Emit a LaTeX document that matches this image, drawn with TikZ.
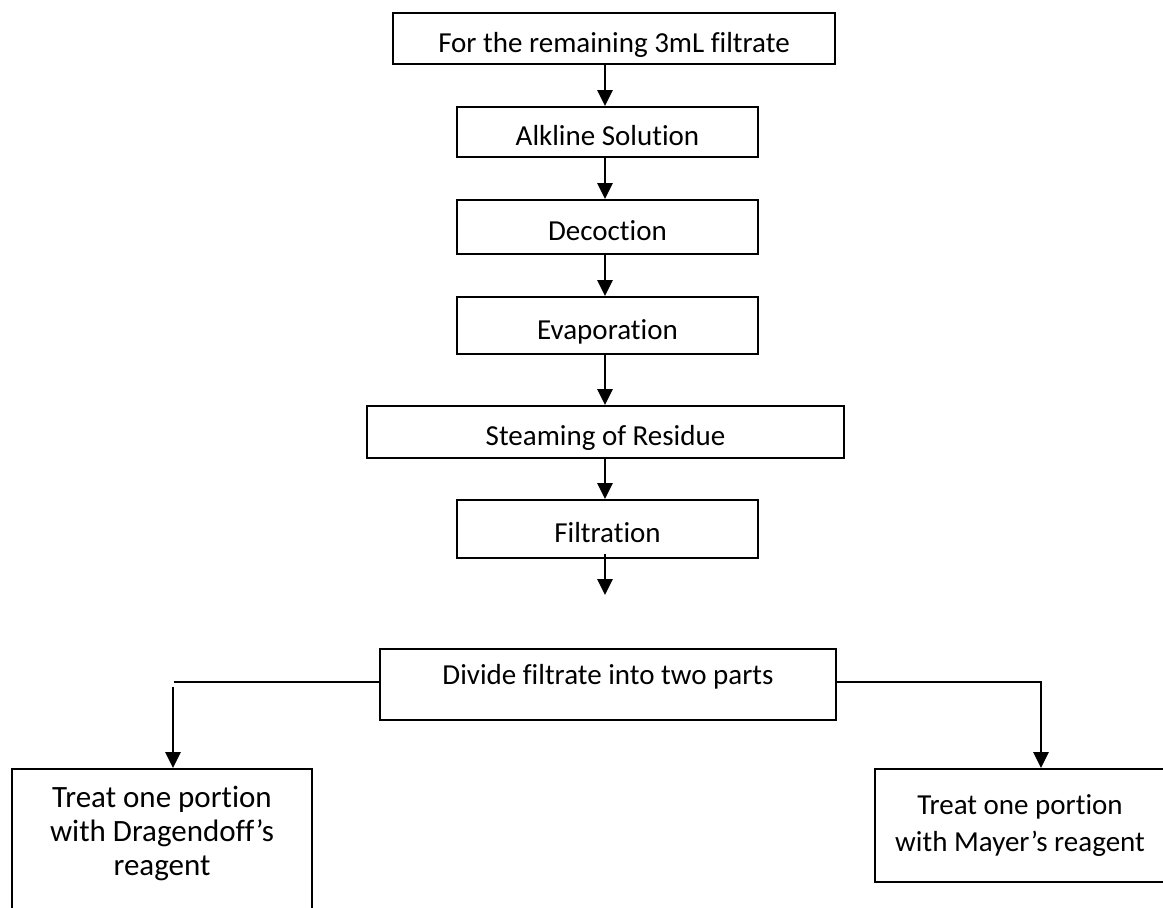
\documentclass[tikz,border=0pt]{standalone}
\usepackage{fontspec}
\setmainfont{Carlito}[Ligatures={TeX,NoCommon}]
\usetikzlibrary{arrows.meta}

\begin{document}
\begin{tikzpicture}[x=0.5pt,y=-0.5pt,
  box/.style={draw,line width=1pt,font=\fontsize{14.5pt}{17pt}\selectfont},
  stepbox/.style={box,inner sep=0pt,text height=14.5pt,text depth=1pt},
  endbox/.style={box,align=center,inner xsep=0pt},
  arr/.style={line width=1.4pt,-{Triangle[width=7.5pt,length=8pt]}},
  link/.style={line width=1.4pt}]
\useasboundingbox (0,0) rectangle (1163,907);

% Steps
\node[stepbox,minimum width=221pt,minimum height=25.5pt] (start) at (614,38.5) {For the remaining 3mL filtrate};
\node[stepbox,minimum width=150.5pt,minimum height=25pt] (alk) at (607.5,132) {Alkline Solution};
\node[stepbox,minimum width=150.5pt,minimum height=27pt] (dec) at (607.5,227) {Decoction};
\node[stepbox,minimum width=150.5pt,minimum height=28.5pt] (evap) at (607.5,325.5) {Evaporation};
\node[stepbox,minimum width=238.5pt,minimum height=26pt] (steam) at (605.5,432) {Steaming of Residue};
\node[stepbox,minimum width=150.5pt,minimum height=29pt] (filt) at (607.5,529) {Filtration};
\node[stepbox,minimum width=228pt,minimum height=35.5pt,text height=6pt,text depth=6pt] (divide) at (608,684.5) {Divide filtrate into two parts};

% Tests
\node[endbox,anchor=north,minimum width=150pt,inner ysep=8.5pt,font=\fontsize{15.5pt}{17pt}\selectfont] (treatL) at (162,768) {Treat one portion\\with Dragendoff's\\reagent\rule[-30pt]{0pt}{0pt}};
\node[endbox,minimum width=145pt,minimum height=56.5pt] (treatR) at (1020,825.5) {Treat one portion\\[1.5pt]with Mayer's reagent};

% Arrow positions
\coordinate (spine) at (605,0);
\coordinate (fend) at (605,595);
\coordinate (lsplit) at (174,682);
\coordinate (ldrop) at (173,687);
\coordinate (rsplit) at (1041,682);

% Arrows
\draw[arr] (start.south -| spine) -- (alk.north -| spine);
\draw[arr] (alk.south -| spine) -- (dec.north -| spine);
\draw[arr] (dec.south -| spine) -- (evap.north -| spine);
\draw[arr] (evap.south -| spine) -- (steam.north -| spine);
\draw[arr] (steam.south -| spine) -- (filt.north -| spine);
\draw[arr] ([yshift=2.5pt]filt.south -| fend) -- (fend);

% Split
\draw[link] (divide.west |- lsplit) -- (lsplit);
\draw[arr] (ldrop) -- (ldrop |- treatL.north);
\draw[arr] (divide.east |- rsplit) -- (rsplit) -- (rsplit |- treatR.north);
\end{tikzpicture}
\end{document}
